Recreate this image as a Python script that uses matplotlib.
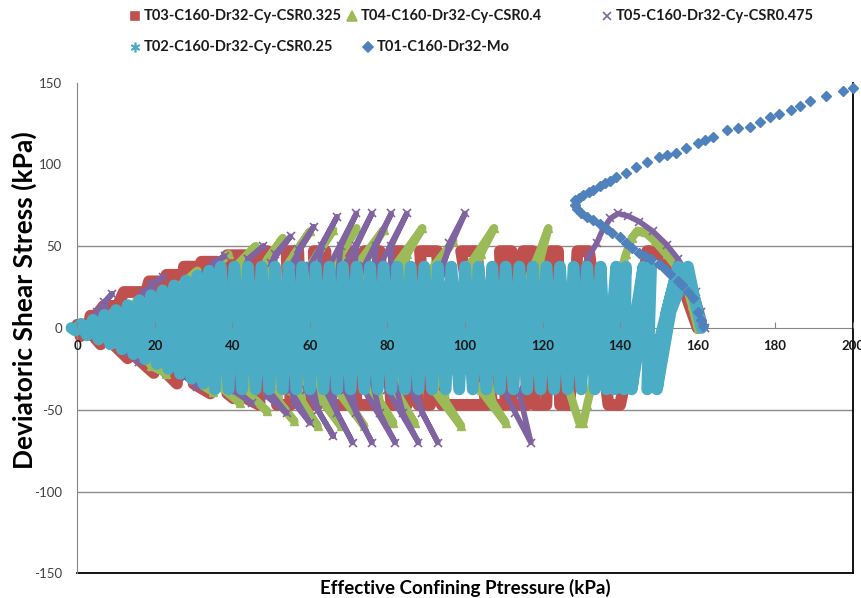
import matplotlib
matplotlib.use('Agg')
import matplotlib.pyplot as plt
from matplotlib.lines import Line2D

plt.rcParams['font.family'] = ['Lato', 'DejaVu Sans']
plt.rcParams['axes.unicode_minus'] = False

# =========================
# 数据: 各试验应力路径的转折点 (p', q), 单位 kPa
# =========================
# T03 CSR0.325 (red)
t03_p = [160, 157, 153, 149.5, 147, 145, 140, 137,
         132, 129, 127, 124.5, 124, 122, 121, 118,
         117.5, 115, 116, 112, 112, 109, 110.5, 107,
         103, 99, 105.5, 103, 97, 94, 92.8, 88.4,
         91, 88, 84, 81.5, 85, 81, 78, 74,
         76, 72, 71, 68, 69, 65, 64, 61,
         62, 58, 57, 54, 55, 51.5, 49, 46.5,
         47, 44, 43.8, 38.6, 40.3, 38.7, 36, 32,
         34.3, 30, 31.8, 27.5, 25.7, 23, 27, 23,
         19.7, 15.5, 22, 18.5, 13, 9.3, 17.5, 12,
         6, 4.2, 9.4, 6.8, 0.8, 6, 3.4, 3, 0, 0]
t03_q = [0, 20, 38, 47, 47, 10, -47, -47,
         47, 47, -47, -47, 47, 47, -47, -47,
         47, 47, -47, -47, 47, 47, -47, -47,
         47, 47, -47, -47, -47, -47, 47, 47,
         -47, -47, 47, 47, -47, -47, 47, 47,
         -47, -47, 47, 47, -47, -47, 47, 47,
         -47, -47, 47, 47, -47, -47, 47, 47,
         -47, -43.5, 44.5, 44.5, -43, -40, 40.5, 40.5,
         -40, -34, 37.5, 37.5, -34, -27.5, 32.5, 32.5,
         -27.5, -18.5, 28.5, 28.5, -18.5, -10, 22, 22,
         -10, -5, 13.5, 13.5, -5, 7.5, 7.5, 2, 2, 0]

# T04 CSR0.4 (green)
t04_p = [160, 158.5, 157, 155, 152, 149, 146.5, 144.5, 143, 141.5,
         140, 138.5, 137, 135, 133, 131.5, 130.5, 129.5, 128, 126.5,
         119, 121.5, 119, 104, 110.5, 107,
         101, 107.5, 104, 92, 99, 95,
         92, 97, 93, 82, 87, 83,
         82, 89, 85, 76, 81.5, 78,
         72, 79, 75, 67, 74, 70,
         66, 72, 68, 61, 68, 64,
         60, 66, 62, 55, 62, 58,
         54, 60, 56, 49, 56, 52,
         48, 53, 49, 43, 49, 45,
         41, 46, 42, 37, 42, 38,
         34, 39, 33, 30, 35, 28,
         27, 31, 24, 19, 23, 15,
         15, 10, 8, 3, 0]
t04_q = [0, 14, 26, 36, 45, 53, 58.5, 59.5, 55, 45,
         33, 18, 3, -14, -32, -47, -58, -58, -47, -35,
         38, 61, 45, -38, -58, -45,
         38, 61, 45, -38, -60, -45,
         38, 53, 40, -38, -58, -45,
         38, 61, 45, -38, -58, -45,
         38, 60, 45, -38, -60, -45,
         38, 61, 45, -38, -60, -45,
         38, 60, 45, -38, -60, -45,
         38, 59, 45, -38, -57, -45,
         38, 55, 42, -38, -51, -42,
         38, 50, 40, -36, -46, -36,
         34, 45, 33, -32, -39, -28,
         27, 35, 20, -23, -28, -16,
         16, -9, 9, -3, 0]

# T05 CSR0.475 (purple)
t05_p = [162, 161, 159.5, 157.5, 155, 152, 148.5, 145, 142, 139.5,
         137.5, 135.5, 134, 132, 128, 122, 114, 117, 113,
         94, 100, 96, 86, 93, 89,
         78, 85, 81, 80, 88, 84,
         74, 81, 77, 74, 82, 78,
         69, 76, 72, 69, 76, 72,
         65, 72, 68, 64, 71, 67,
         60, 67, 63, 59, 66, 62,
         55, 61, 57, 55, 60, 56,
         50, 55, 51, 50, 54, 49,
         44, 48, 44, 41, 45, 40,
         35, 38, 32, 28, 31, 25,
         19, 22, 17, 13, 16, 9,
         7, 9, 5, 2, 0]
t05_q = [0, 10, 22, 32, 42, 51, 59, 65, 68.5, 70,
         67, 60, 52, 44, 25, -5, -40, -70, -52,
         38, 70, 52, -38, -70, -52,
         38, 70, 50, -38, -70, -52,
         38, 70, 50, -38, -70, -52,
         38, 70, 50, -38, -70, -52,
         38, 70, 50, -38, -70, -52,
         38, 68, 50, -38, -66, -50,
         38, 62, 48, -38, -58, -46,
         40, 56, 45, -40, -52, -42,
         42, 50, 42, -38, -46, -38,
         40, 44, 33, -30, -36, -24,
         27, 31, 22, -15, -21, -6,
         16, 21, 10, -2, 0]

# T02 CSR0.25 (cyan)
t02_p = [161, 159, 157.5, 153, 149.5, 152, 155, 151, 147, 148,
         143, 146, 141, 141.5, 138.5, 139, 136.5,
         135, 133.5, 131.5, 130, 128, 126.5, 124.5, 123, 121, 119.5,
         117.5, 116, 114, 112.5, 110.5, 109, 107, 105.5, 103.5, 102,
         100, 98.5, 96.5, 95, 93, 91.5, 89.5, 88, 86, 84.5,
         82.5, 81, 79, 77.5, 75.5, 74, 72, 70.5, 68.5, 67,
         65, 63.5, 61.5, 60, 58, 56.5, 54.5, 53, 51, 49.5,
         47.5, 46, 44, 42.5, 40.5, 39, 37,
         35.5, 34, 32.5, 31, 29.5, 28, 26.5, 25, 23.5, 22,
         20.5, 19, 17.5, 16, 14.5, 13, 11.5, 10, 8.5, 7,
         5.5, 4, 2.5, 1, -0.5, -1.5]
t02_q = [0, 20, 37.5, 10, -37.5, 10, 37.5, 0, -37.5, 37.5,
         -37.5, 37.5, -37.5, 37.5, -37.5, 37.5, -37.5,
         37.5, -37.5, 37.5, -37.5, 37.5, -37.5, 37.5, -37.5, 37.5, -37.5,
         37.5, -37.5, 37.5, -37.5, 37.5, -37.5, 37.5, -37.5, 37.5, -37.5,
         37.5, -37.5, 37.5, -37.5, 37.5, -37.5, 37.5, -37.5, 37.5, -37.5,
         37.5, -37.5, 37.5, -37.5, 37.5, -37.5, 37.5, -37.5, 37.5, -37.5,
         37.5, -37.5, 37.5, -37.5, 37.5, -37.5, 37.5, -37.5, 37.5, -37.5,
         37.5, -37.5, 37.5, -37.5, 37.5, -37.5, 37.5,
         -37.5, 35, -34, 32, -31, 29, -28, 26, -25, 23,
         -22, 20, -19, 17, -16, 14, -13, 11, -10, 8,
         -7, 5, -4.5, 2.5, -1.5, 0]

# T01 monotonic (blue)
t01_p = [161.5, 161, 160, 158.8, 157.5, 156, 155, 153, 151.5, 150,
         148, 146.5, 145, 143, 141.5, 140, 138, 136.5, 134.8, 133,
         131.5, 130, 129, 128.3, 128.5, 129.5, 130.5, 132, 133, 134.8,
         136, 137.5, 139, 141.5, 144, 147, 150, 152, 154.5, 157,
         160, 162, 164, 167.5, 170.5, 173.5, 176, 178.6, 181, 184,
         186.5, 189, 193, 197.5, 200]
t01_q = [1, 5, 10, 18.5, 22, 26, 29, 33, 36, 39,
         42, 44, 46, 49, 52, 55.5, 58, 60.5, 63.5, 66,
         68, 70, 72.5, 75, 78, 79.5, 81, 83, 84.5, 87,
         88.5, 90, 92.5, 95, 98.5, 101.5, 104.5, 105.5, 107, 110,
         113, 115, 117, 121, 122, 123, 126, 129, 131, 133.5,
         136, 138.6, 141.7, 144.8, 147]

labels = ["T03-C160-Dr32-Cy-CSR0.325", "T04-C160-Dr32-Cy-CSR0.4",
          "T05-C160-Dr32-Cy-CSR0.475", "T02-C160-Dr32-Cy-CSR0.25",
          "T01-C160-Dr32-Mo"]

c_red, c_green, c_purple, c_cyan, c_blue = '#C0504D', '#9BBB59', '#8064A2', '#4BACC6', '#4F81BD'
star = (6, 2, 0)

W, H = 861, 598
fig = plt.figure(figsize=(W / 100, H / 100), dpi=100)
ax = fig.add_axes([77.3 / W, 1 - 573.4 / H, 775.4 / W, 490.8 / H])

# 网格线
for y in [50, -50, -100]:
    ax.axhline(y, color='#8c8c8c', lw=1, zorder=0)

line_kw = dict(solid_joinstyle='round', solid_capstyle='round', clip_on=False)
ax.plot(t03_p, t03_q, color=c_red, lw=8.5, marker='s', ms=5, zorder=2, **line_kw)
ax.plot(t04_p, t04_q, color=c_green, lw=6, marker='^', ms=6, zorder=3, **line_kw)
ax.plot(t05_p, t05_q, color=c_purple, lw=4, marker='x', ms=6, mew=1.2, zorder=4, **line_kw)
ax.plot(t02_p, t02_q, color=c_cyan, lw=8.5, marker=star, ms=6, zorder=5, **line_kw)
ax.plot(t01_p, t01_q, ls='none', color=c_blue, marker='D', ms=5.5, zorder=6, clip_on=False)

ax.set_xlim(0, 200)
ax.set_ylim(-150, 150)
ax.set_xticks(range(0, 201, 20))
ax.set_yticks(range(-150, 151, 50))

ax.spines['top'].set_visible(False)
ax.spines['right'].set_color('black')
ax.spines['right'].set_linewidth(1.3)
ax.spines['left'].set_color('#868686')
ax.spines['bottom'].set_position(('data', 0))
ax.spines['bottom'].set_color('#868686')
ax.spines['bottom'].set_zorder(1)
ax.axhline(-150, color='black', lw=1.3, clip_on=False)

ax.tick_params(axis='x', direction='in', length=4, color='#868686', pad=9,
               labelsize=9.5, labelcolor='#1a1a1a')
ax.tick_params(axis='y', length=0, pad=11, labelsize=9.5, labelcolor='#404040')
for t in ax.get_xticklabels():
    t.set_fontweight('bold')
ax.xaxis.set_zorder(8)   # 刻度标签画在数据之上

fig.text(24 / W, 1 - 300 / H, 'Deviatoric Shear Stress (kPa)', rotation=90,
         fontsize=19, fontweight='bold', ha='center', va='center')
fig.text(465 / W, 1 - 588 / H, 'Effective Confining Ptressure (kPa)',
         fontsize=13.5, fontweight='bold', ha='center', va='center')

# 图例 (手动排列)
leg = [(135, 16, 's', c_red, 6, labels[0]),
       (352, 16, '^', c_green, 7, labels[1]),
       (607, 16, 'x', c_purple, 6, labels[2]),
       (135, 47, star, c_cyan, 7, labels[3]),
       (368, 47, 'D', c_blue, 5.5, labels[4])]
for x, y, m, c, ms, lab in leg:
    fig.add_artist(Line2D([x / W], [1 - y / H], transform=fig.transFigure,
                          ls='none', marker=m, ms=ms, color=c, mew=1.2))
    fig.text((x + 9) / W, 1 - y / H, lab, fontsize=10.5, fontweight='bold',
             ha='left', va='center', color='#1a1a1a')

fig.savefig('out.png', dpi=100)
